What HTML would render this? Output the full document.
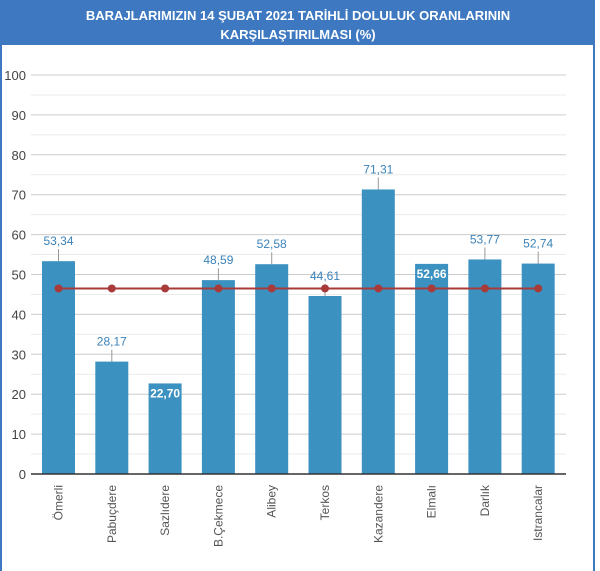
<!DOCTYPE html>
<html><head><meta charset="utf-8"><style>
body{margin:0;background:#fff;}
#w{position:relative;width:600px;height:571px;overflow:hidden;font-family:"Liberation Sans",Arial,sans-serif;}
</style></head><body><div id="w">
<svg width="600" height="571" xmlns="http://www.w3.org/2000/svg" font-family="Liberation Sans, Arial, sans-serif">
<rect x="0" y="0" width="600" height="571" fill="#fff"/>
<rect x="0" y="0" width="595" height="45" fill="#3d78c0"/>
<rect x="0" y="0" width="2" height="571" fill="#3d78c0"/>
<rect x="593" y="0" width="2" height="571" fill="#3d78c0"/>
<text x="298" y="20" text-anchor="middle" fill="#fff" font-weight="bold" font-size="13">BARAJLARIMIZIN 14 ŞUBAT 2021 TARİHLİ DOLULUK ORANLARININ</text>
<text x="298" y="39" text-anchor="middle" fill="#fff" font-weight="bold" font-size="13">KARŞILAŞTIRILMASI (%)</text>
</svg>
<script>
var svg=document.querySelector('svg'),ns='http://www.w3.org/2000/svg';
function el(t,a,txt){var e=document.createElementNS(ns,t);for(var k in a)e.setAttribute(k,a[k]);if(txt)e.textContent=txt;svg.appendChild(e);return e;}
var y0=474,s=3.99,xl=31,xr=566;
for(var v=0;v<=100;v+=5){var y=y0-v*s;
 el('line',{x1:xl,x2:xr,y1:y,y2:y,stroke:v%10?'#ebebeb':'#cccccc','stroke-width':1});
 if(v%10==0)el('text',{x:26,y:y+5,'text-anchor':'end','font-size':13,fill:'#444'},''+v);}
var d=[["Ömerli",53.34],["Pabuçdere",28.17],["Sazlıdere",22.70],["B.Çekmece",48.59],["Alibey",52.58],["Terkos",44.61],["Kazandere",71.31],["Elmalı",52.66],["Darlık",53.77],["Istrancalar",52.74]];
var cs=[];
d.forEach(function(r,i){var c=58.5+53.3*i;cs.push(c);var h=r[1]*s;
 el('rect',{x:c-16.5,y:y0-h,width:33,height:h,fill:'#3b91c0'});
 var lab=r[1].toFixed(2).replace('.',',');
 if(i==2||i==7){el('text',{x:c,y:y0-h+14,'text-anchor':'middle','font-size':12,'font-weight':'bold',fill:'#fff'},lab);}
 else{el('line',{x1:c,x2:c,y1:y0-h,y2:y0-h-12,stroke:'#999'});el('text',{x:c,y:y0-h-16,'text-anchor':'middle','font-size':12,fill:'#3b82b8'},lab);}
 el('text',{x:0,y:0,transform:'translate('+(c+4)+',485) rotate(-90)','text-anchor':'end','font-size':12,fill:'#555'},r[0]);
});
el('line',{x1:xl,x2:xr,y1:y0,y2:y0,stroke:'#333','stroke-width':1.5});
var ly=y0-46.5*s;
el('line',{x1:cs[0],x2:cs[9],y1:ly,y2:ly,stroke:'#a83a3a','stroke-width':2});
cs.forEach(function(c){el('circle',{cx:c,cy:ly,r:4,fill:'#a83a3a'});});
</script>
</div></body></html>
